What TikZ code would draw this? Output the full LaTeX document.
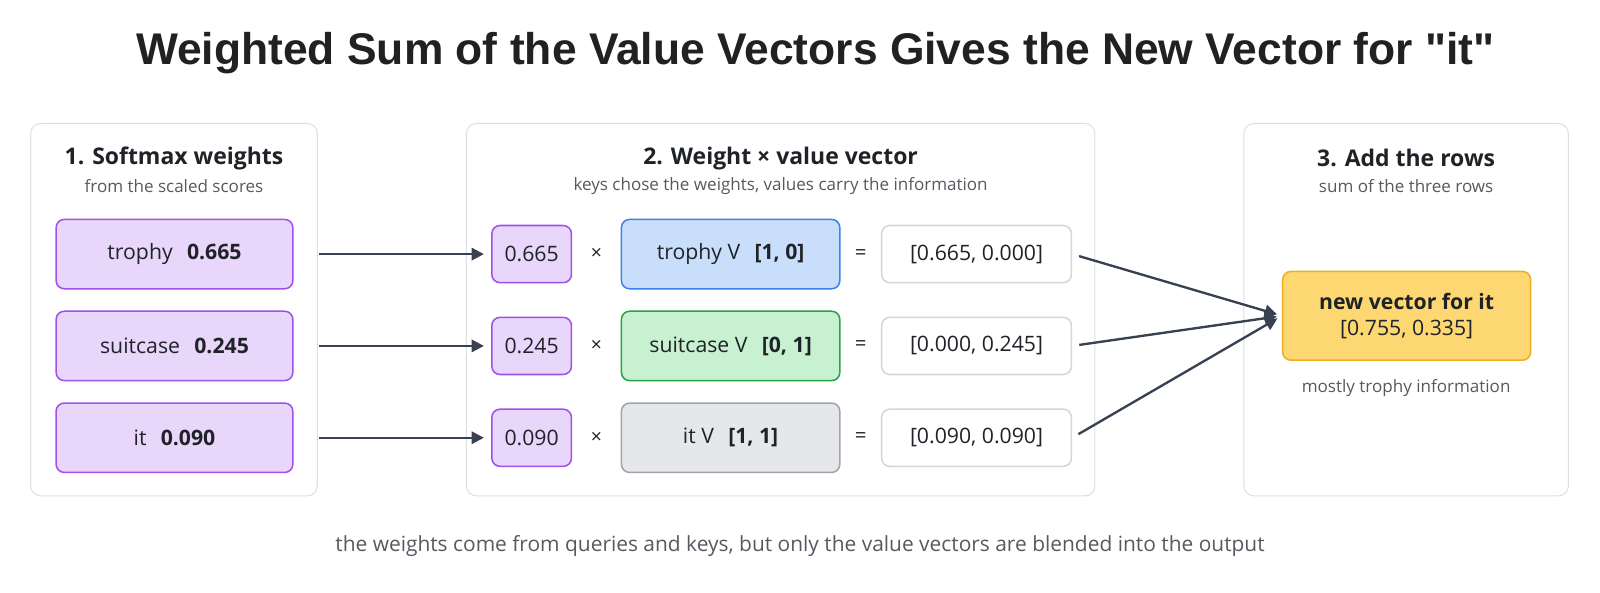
\documentclass[tikz,border=0pt]{standalone}
\usepackage{fontspec}
\setmainfont{Open Sans}
\newfontfamily\titlefont{Liberation Sans}
\usetikzlibrary{arrows.meta,positioning,backgrounds,calc}
\definecolor{ink}{HTML}{1F2328}
\definecolor{subgray}{HTML}{555A60}
\definecolor{panelline}{HTML}{DCDFE4}
\definecolor{arrowgray}{HTML}{374151}
\definecolor{purplefill}{HTML}{E8D6FB}
\definecolor{purpleline}{HTML}{A052E8}
\definecolor{bluefill}{HTML}{C9DEFB}
\definecolor{blueline}{HTML}{3B82F0}
\definecolor{greenfill}{HTML}{C7F1D1}
\definecolor{greenline}{HTML}{28A345}
\definecolor{grayfill}{HTML}{E5E7EB}
\definecolor{grayline}{HTML}{A0A4AA}
\definecolor{resline}{HTML}{D3D6DB}
\definecolor{amberfill}{HTML}{FCD772}
\definecolor{amberline}{HTML}{EFAF1E}

\begin{document}
\begin{tikzpicture}
	[x=1pt, y=-1pt, inner sep=0pt, text=ink, font=\fontsize{20.8}{24}\selectfont,
	panel/.style	= {draw=panelline, line width=1pt, rounded corners=10pt, fill=white},
	head/.style		= {font=\fontsize{22.5}{26}\selectfont\bfseries},
	sub/.style		= {text=subgray, font=\fontsize{16.7}{20}\selectfont},
	softbox/.style	= {draw=purpleline, fill=purplefill, line width=1.5pt, rounded corners=8pt, minimum width=232pt, minimum height=68pt},
	weightbox/.style= {draw=purpleline, fill=purplefill, line width=1.5pt, rounded corners=8pt, minimum width=78pt, minimum height=56pt},
	valbox/.style	= {line width=1.5pt, rounded corners=8pt, minimum width=214pt, minimum height=68pt},
	resbox/.style	= {draw=resline, fill=white, line width=1.5pt, rounded corners=8pt, minimum width=186pt, minimum height=56pt},
	link/.style		= {draw=arrowgray, line width=2.3pt, -{Triangle[length=12pt, width=12pt]}}]

	\useasboundingbox (0,0) rectangle (1568,581);

	\node [font=\titlefont\fontsize{43.5}{48}\selectfont\bfseries, text=black!87] at (799,52) (title)
		{Weighted Sum of the Value Vectors Gives the New Vector for "it"};

	% three panels
	\draw [panel] (30,121) rectangle (311,486);
	\draw [panel] (457,121) rectangle (1073,486);
	\draw [panel] (1219,121) rectangle (1537,486);

	\node [head] at (170.5,155) (h1) {1. Softmax weights};
	\node [sub]  at (170.5,182) (t1) {from the scaled scores};
	\node [head] at (765,155)   (h2) {2. Weight × value vector};
	\node [sub]  at (765,182)   (t2) {keys chose the weights, values carry the information};
	\node [head] at (1378,155)  (h3) {3. Add the rows};
	\node [sub]  at (1378,182)  (t3) {sum of the three rows};

	% softmax weights
	\node [softbox] at (171,249)			(s1) {trophy\hspace{14pt}\textbf{0.665}};
	\node [softbox] [below = 20.5pt of s1]	(s2) {suitcase\hspace{14pt}\textbf{0.245}};
	\node [softbox] [below = 20.5pt of s2]	(s3) {it\hspace{14pt}\textbf{0.090}};

	% weight x value = row
	\node [weightbox] at (521,249)		(w1) {0.665};
	\node [weightbox] at (521,339)		(w2) {0.245};
	\node [weightbox] at (521,429)		(w3) {0.090};

	\node [valbox, draw=blueline, fill=bluefill]   at (716,249) (v1) {trophy V\hspace{14pt}\textbf{[1, 0]}};
	\node [valbox, draw=greenline, fill=greenfill] at (716,339) (v2) {suitcase V\hspace{14pt}\textbf{[0, 1]}};
	\node [valbox, draw=grayline, fill=grayfill]   at (716,429) (v3) {it V\hspace{14pt}\textbf{[1, 1]}};

	\foreach \r in {1,2,3} {
		\node [font=\fontsize{19}{20}\selectfont] at ($(w\r.east)!0.5!(v\r.west)$) (x\r) {×};
	}

	\node [resbox] at (957,249)		(r1) {[0.665, 0.000]};
	\node [resbox] at (957,339)		(r2) {[0.000, 0.245]};
	\node [resbox] at (957,429)		(r3) {[0.090, 0.090]};

	\foreach \r in {1,2,3} {
		\node [font=\fontsize{20}{20}\selectfont] at ($(v\r.east)!0.5!(r\r.west)$) (e\r) {=};
	}

	% sum
	\node [draw=amberline, fill=amberfill, line width=1.5pt, rounded corners=8pt, minimum width=243pt, minimum height=87pt,
		align=center, font=\fontsize{20.8}{25}\selectfont] at (1378.5,309.5) (new)
		{\textbf{new vector for it}\\{[0.755, 0.335]}};
	\node [sub] at (1378,380) (m) {mostly trophy information};

	\foreach \r in {1,2,3} {
		\draw [link, shorten <=25pt, shorten >=7pt] (s\r.east) -- (w\r.west);
		\draw [link, shorten <=7pt, shorten >=5pt] (r\r.east) -- (new.west);
	}

	\node [sub, font=\fontsize{20.5}{24}\selectfont] at (784,535) (note)
		{the weights come from queries and keys, but only the value vectors are blended into the output};
\end{tikzpicture}
\end{document}
